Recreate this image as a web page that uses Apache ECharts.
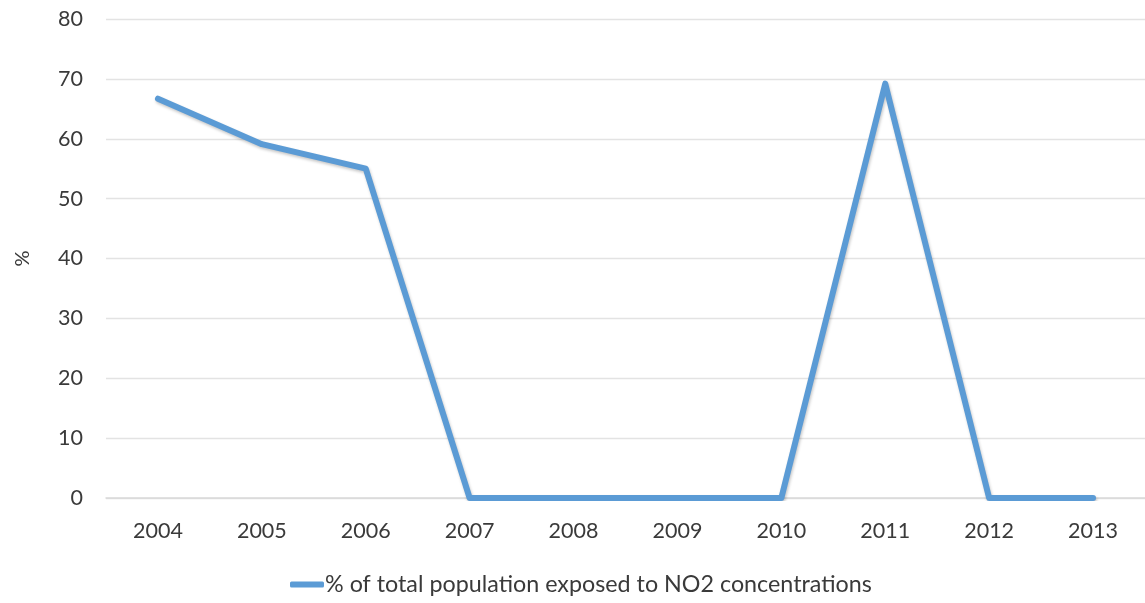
<!DOCTYPE html>
<html>
<head>
<meta charset="utf-8">
<script src="https://cdn.jsdelivr.net/npm/echarts@6/dist/echarts.min.js"></script>
<style>
  html, body { margin: 0; padding: 0; background: #fff; }
  #chart { width: 1145px; height: 603px; }
</style>
</head>
<body>
<div id="chart"></div>
<script>
// Years on the category axis
const years = ['2004', '2005', '2006', '2007', '2008', '2009', '2010', '2011', '2012', '2013'];
// Share of population exposed to NO2 concentrations, in %
const exposedPct = [66.7, 59.1, 55.0, 0, 0, 0, 0, 69.2, 0, 0];
const seriesName = '% of total population exposed to NO2 concentrations';
const yTicks = { min: 0, max: 80, interval: 10 };

const FONT = 'Lato, "Open Sans", sans-serif';
const TEXT = '#3a3a3a';
const BLUE = '#5B9BD5';

const chart = echarts.init(document.getElementById('chart'), null, { renderer: 'canvas' });
chart.setOption({
  animation: false,
  backgroundColor: '#ffffff',
  grid: { left: 106, top: 19, width: 1044, height: 479, containLabel: false },
  xAxis: {
    type: 'category',
    data: years,
    boundaryGap: true,
    axisLine: { show: true, lineStyle: { color: '#d9d9d9', width: 1.5 } },
    axisTick: { show: false },
    axisLabel: { color: TEXT, fontFamily: FONT, fontSize: 21.5, margin: 22 }
  },
  yAxis: {
    type: 'value',
    min: yTicks.min,
    max: yTicks.max,
    interval: yTicks.interval,
    name: '%',
    nameLocation: 'middle',
    nameGap: 73,
    nameRotate: 90,
    nameTextStyle: { color: TEXT, fontFamily: FONT, fontSize: 20 },
    axisLine: { show: false },
    axisTick: { show: false },
    axisLabel: { color: TEXT, fontFamily: FONT, fontSize: 21.5, margin: 23 },
    splitLine: { lineStyle: { color: '#e3e3e3', width: 1.3 } }
  },
  legend: {
    show: true,
    bottom: 2,
    left: 285,
    itemWidth: 34,
    itemHeight: 6,
    itemGap: 0,
    icon: 'roundRect',
    textStyle: { color: TEXT, fontFamily: FONT, fontSize: 23.3, padding: [0, 0, 0, -4] },
    data: [{ name: seriesName, itemStyle: { color: BLUE } }]
  },
  series: [{
    name: seriesName,
    type: 'line',
    data: exposedPct,
    showSymbol: false,
    symbol: 'none',
    color: BLUE,
    lineStyle: {
      color: BLUE,
      width: 6,
      cap: 'round',
      join: 'round',
      shadowColor: 'rgba(0,0,0,0.22)',
      shadowBlur: 3,
      shadowOffsetX: 1,
      shadowOffsetY: 2
    }
  }]
});
</script>
</body>
</html>
